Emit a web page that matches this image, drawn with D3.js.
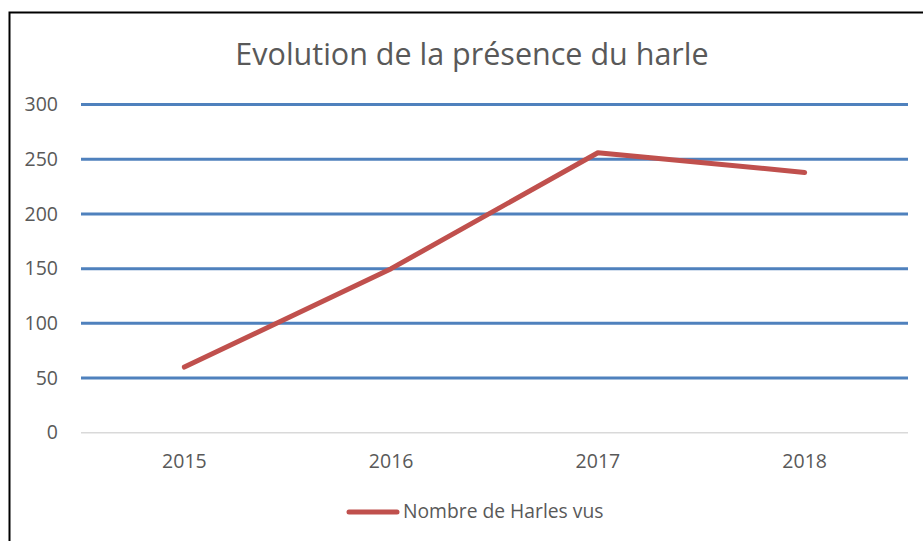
<!DOCTYPE html>
<html><head><meta charset="utf-8">
<script src="https://cdn.jsdelivr.net/npm/d3@7"></script>
<style>body{margin:0;background:#fff;} svg{display:block;font-family:"Open Sans", sans-serif;}</style>
</head><body>
<svg id="c" width="923" height="541"></svg>
<script>
const categories = ["2015","2016","2017","2018"];
const values = [60, 150, 256, 238];
const yTicks = [0,50,100,150,200,250,300];
const seriesName = "Nombre de Harles vus";
const title = "Evolution de la présence du harle";

const FONT = "'Open Sans', sans-serif";
const svg = d3.select("#c");
// chart border
svg.append("rect").attr("x",9.5).attr("y",12.5).attr("width",1000).attr("height",1000)
  .attr("fill","none").attr("stroke","#000").attr("stroke-width",2);

const x = d3.scaleBand().domain(categories).range([81,908]);
const y = d3.scaleLinear().domain([0,300]).range([432.7,104.6]);

// gridlines
svg.append("g").selectAll("line").data(yTicks).join("line")
  .attr("x1",81).attr("x2",908)
  .attr("y1",d=>y(d)).attr("y2",d=>y(d))
  .attr("stroke",d=>d===0?"#d9d9d9":"#4f81bd")
  .attr("stroke-width",d=>d===0?1.5:3);

// y axis labels
const yAxis = d3.axisLeft(y).tickValues(yTicks).tickSize(0).tickPadding(0);
const gy = svg.append("g").attr("transform","translate(58,0)").call(yAxis);
gy.select(".domain").remove();
gy.selectAll("text").attr("font-size",19.5).attr("fill","#595959").attr("font-family",FONT);

// x axis labels
const xAxis = d3.axisBottom(x).tickSize(0).tickPadding(0);
const gx = svg.append("g").attr("transform","translate(0,454)").call(xAxis);
gx.select(".domain").remove();
gx.selectAll("text").attr("font-size",19.5).attr("fill","#595959").attr("font-family",FONT);

// line
const line = d3.line().x((d,i)=>x(categories[i])+x.bandwidth()/2).y(d=>y(d));
svg.append("path").datum(values).attr("d",line)
  .attr("fill","none").attr("stroke","#c0504d").attr("stroke-width",5)
  .attr("stroke-linecap","round").attr("stroke-linejoin","round");

// title
svg.append("text").attr("x",472).attr("y",65).attr("text-anchor","middle")
  .attr("font-size",30.5).attr("fill","#595959").attr("font-family",FONT).text(title);

// legend
svg.append("line").attr("x1",349).attr("x2",397).attr("y1",512).attr("y2",512)
  .attr("stroke","#c0504d").attr("stroke-width",5).attr("stroke-linecap","round");
svg.append("text").attr("x",403).attr("y",518).attr("font-size",19.3).attr("fill","#595959")
  .attr("font-family",FONT).text(seriesName);
</script>
</body></html>
